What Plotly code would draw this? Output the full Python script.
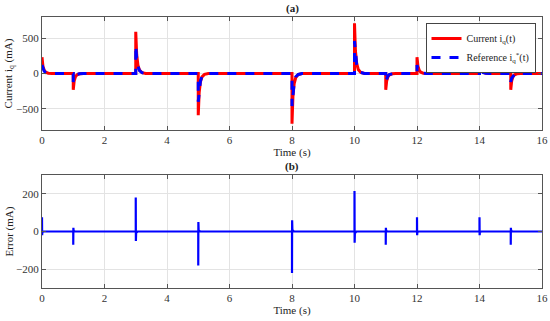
import plotly.graph_objects as go

# Step-event times (s) and peak values
event_times = [0, 1, 3, 5, 8, 10, 11, 12, 14, 15]
current_peaks = [230, -230, 590, -590, -710, 710, -230, 230, 230, -230]      # mA
reference_peaks = [120, -120, 400, -400, -460, 460, -120, 120, 120, -120]    # mA
error_peaks = [75, -70, 180, -180, -220, 215, -70, 75, 75, -70]              # mA
error_undershoot = [-20, 20, -50, 50, 60, -60, 20, -20, -20, 20]             # mA

# Transient shape (time offset, fraction of peak)
cur_offsets = [0.0, 0.03, 0.07, 0.12, 0.2, 0.32]
cur_fracs = [1.0, 0.45, 0.2, 0.08, 0.02, 0.0]
ref_offsets = [0.0, 0.03, 0.07, 0.12, 0.2, 0.32]
ref_fracs = [1.0, 0.55, 0.27, 0.1, 0.03, 0.0]
err_offsets = [0.0, 0.004, 0.012, 0.06]
err_fracs_of_under = [None, 1.0, 0.15, 0.0]

t_end = 16


def build(peaks, offsets, fracs):
    xs, ys = [], []
    for t, p in zip(event_times, peaks):
        if t > 0:
            xs.append(t)
            ys.append(0)
        for o, f in zip(offsets, fracs):
            xs.append(t + o)
            ys.append(p * f)
    xs.append(t_end)
    ys.append(0)
    return xs, ys


cx, cy = build(current_peaks, cur_offsets, cur_fracs)
rx, ry = build(reference_peaks, ref_offsets, ref_fracs)

ex, ey = [], []
for t, p, u in zip(event_times, error_peaks, error_undershoot):
    if t > 0:
        ex.append(t)
        ey.append(0)
    for o, f in zip(err_offsets, err_fracs_of_under):
        ex.append(t + o)
        ey.append(p if f is None else u * f)
ex.append(t_end)
ey.append(0)

FONT = "Liberation Serif"

fig = go.Figure()
fig.add_trace(go.Scatter(x=cx, y=cy, mode="lines", name="Current i<sub>q</sub>(t)",
                         line=dict(color="#ff0000", width=3), xaxis="x", yaxis="y"))
fig.add_trace(go.Scatter(x=rx, y=ry, mode="lines", name="Reference i<sub>q</sub><sup>*</sup>(t)",
                         line=dict(color="#0000ff", width=3, dash="dash"), xaxis="x", yaxis="y"))
fig.add_trace(go.Scatter(x=ex, y=ey, mode="lines", showlegend=False,
                         line=dict(color="#0000ff", width=2.2), xaxis="x2", yaxis="y2"))

axis_common = dict(showgrid=True, gridcolor="#e3e3e3", gridwidth=1, showline=True,
                   linecolor="#555555", linewidth=1, mirror="ticks", ticks="inside",
                   ticklen=4, tickcolor="#555555", zeroline=False, automargin=False,
                   tickfont=dict(family=FONT, size=11, color="#333333"))

fig.update_layout(
    width=550, height=321,
    margin=dict(l=42, r=8, t=17, b=33, autoexpand=False),
    paper_bgcolor="white", plot_bgcolor="white",
    font=dict(family=FONT, size=11, color="#222222"),
    xaxis=dict(domain=[0, 1], range=[0, 16], tickvals=[0, 2, 4, 6, 8, 10, 12, 14, 16],
               anchor="y", title=dict(text="Time (s)", standoff=0,
                                      font=dict(family=FONT, size=11)), **axis_common),
    yaxis=dict(domain=[0.583, 1], range=[-800, 800], tickvals=[-500, 0, 500], anchor="x",
               title=dict(text="Current i<sub>q</sub> (mA)", standoff=0,
                          font=dict(family=FONT, size=11)), **axis_common),
    xaxis2=dict(domain=[0, 1], range=[0, 16], tickvals=[0, 2, 4, 6, 8, 10, 12, 14, 16],
                anchor="y2", title=dict(text="Time (s)", standoff=0,
                                        font=dict(family=FONT, size=11)), **axis_common),
    yaxis2=dict(domain=[0, 0.417], range=[-300, 300], tickvals=[-200, 0, 200], anchor="x2",
                title=dict(text="Error (mA)", standoff=0,
                           font=dict(family=FONT, size=11)), **axis_common),
    legend=dict(x=0.987, y=0.978, xanchor="right", yanchor="top",
                bgcolor="white", bordercolor="#444444", borderwidth=1,
                font=dict(family=FONT, size=10), tracegroupgap=0,
                itemwidth=30),
    annotations=[
        dict(text="<b>(a)</b>", x=0.5, y=1.0, xref="paper", yref="paper",
             xanchor="center", yanchor="bottom", showarrow=False, yshift=0,
             font=dict(family=FONT, size=11)),
        dict(text="<b>(b)</b>", x=0.5, y=0.417, xref="paper", yref="paper",
             xanchor="center", yanchor="bottom", showarrow=False, yshift=0,
             font=dict(family=FONT, size=11)),
    ],
)

fig.write_html("out.html", config={"displayModeBar": False},
               post_script="document.body.style.margin='0';")
